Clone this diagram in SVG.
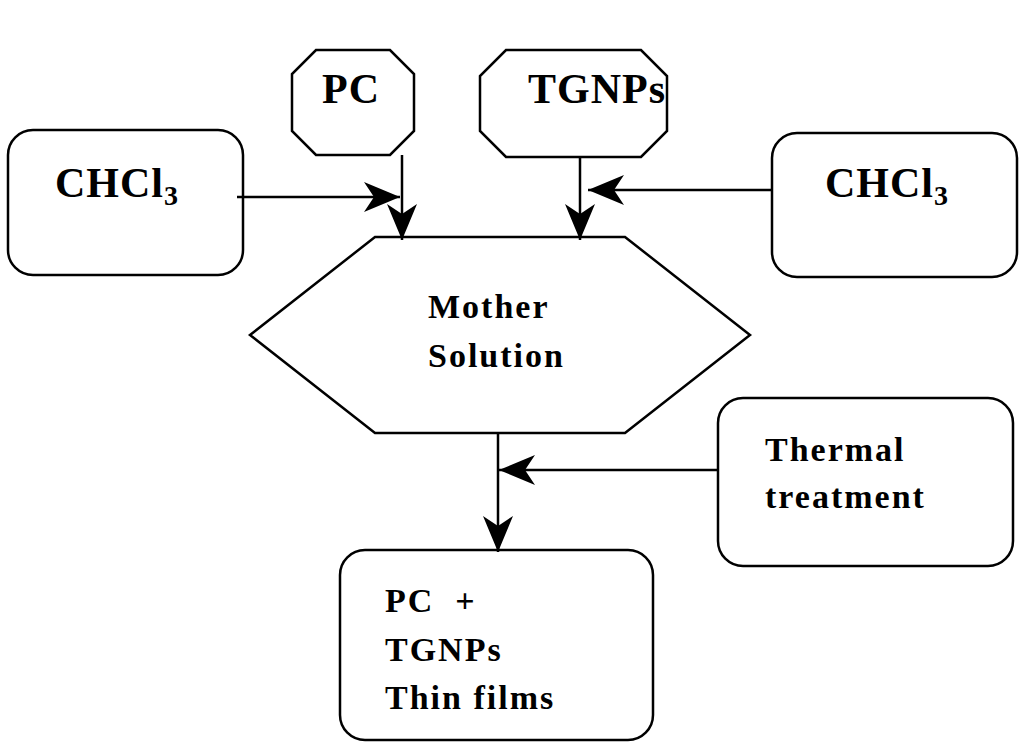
<svg xmlns="http://www.w3.org/2000/svg" width="1024" height="749" viewBox="0 0 1024 749">
<defs>
<style>
.s{fill:#fff;stroke:#000;stroke-width:2.5}
.t{font-family:"Liberation Serif","Times New Roman",serif;font-weight:bold;fill:#000}
.big{font-size:42px;letter-spacing:1px}
.mid{font-size:34px;letter-spacing:2px}
.c{stroke:#000;stroke-width:2.5;fill:none}
</style>
<marker id="a" markerWidth="40" markerHeight="30" refX="36" refY="15" orient="auto" markerUnits="userSpaceOnUse">
<path d="M0,0 L36,15 L0,30 L10,15 Z" fill="#000"/>
</marker>
</defs>
<rect width="1024" height="749" fill="#fff"/>
<g id="pc"><polygon class="s" points="316,50 390,50 414,74 414,131 390,155 316,155 292,131 292,74"/><text class="t big" x="322" y="103">PC</text></g>
<g id="tgnps"><polygon class="s" points="506,50 641,50 667,76 667,131 641,157 506,157 480,131 480,76"/><text class="t big" x="528" y="103">TGNPs</text></g>
<g id="chcl3-left"><rect class="s" x="8" y="130" width="235" height="145" rx="25"/><text class="t big" x="55" y="197">CHCl<tspan font-size="28" dy="8">3</tspan></text></g>
<g id="chcl3-right"><rect class="s" x="772" y="133" width="245" height="144" rx="25"/><text class="t big" x="825" y="197">CHCl<tspan font-size="28" dy="8">3</tspan></text></g>
<g id="mother"><polygon class="s" points="250,335 375,237 625,237 750,335 625,433 375,433"/><text class="t mid" x="428" y="318">Mother</text><text class="t mid" x="428" y="367">Solution</text></g>
<g id="thermal"><rect class="s" x="718" y="398" width="295" height="168" rx="25"/><text class="t mid" x="765" y="461">Thermal</text><text class="t mid" x="765" y="508">treatment</text></g>
<g id="films"><rect class="s" x="340" y="550" width="313" height="190" rx="25"/><text class="t mid" x="385" y="612" xml:space="preserve">PC  +</text><text class="t mid" x="385" y="661">TGNPs</text><text class="t mid" x="385" y="709">Thin films</text></g>
<g id="connectors">
<line class="c" x1="402" y1="155" x2="402" y2="240" marker-end="url(#a)"/>
<line class="c" x1="580" y1="157" x2="580" y2="240" marker-end="url(#a)"/>
<line class="c" x1="237" y1="197" x2="400" y2="197" marker-end="url(#a)"/>
<line class="c" x1="772" y1="190" x2="588" y2="190" marker-end="url(#a)"/>
<line class="c" x1="498" y1="433" x2="498" y2="552" marker-end="url(#a)"/>
<line class="c" x1="718" y1="470" x2="499" y2="470" marker-end="url(#a)"/>
</g>
</svg>
